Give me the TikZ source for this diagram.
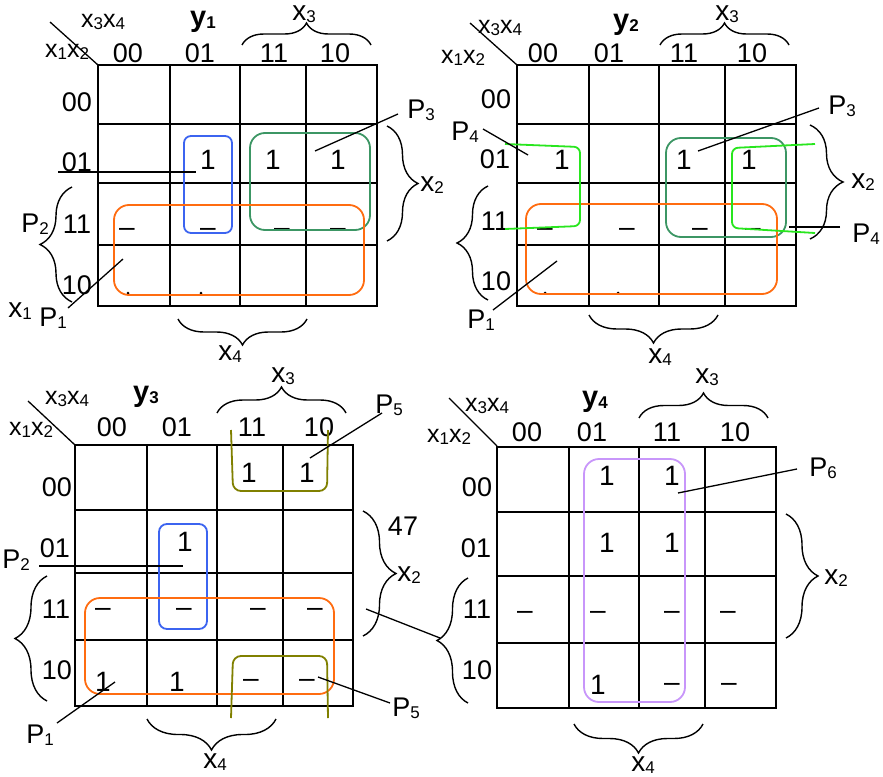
\documentclass[tikz,border=0pt]{standalone}
\usepackage{fontspec}
\setmainfont{Liberation Sans}
\usetikzlibrary{decorations.pathreplacing}
\definecolor{korange}{RGB}{255,108,16}
\definecolor{kblue}{RGB}{60,100,240}
\definecolor{kgreen}{RGB}{60,150,100}
\definecolor{klime}{RGB}{40,230,30}
\definecolor{kolive}{RGB}{128,128,0}
\definecolor{kpurple}{RGB}{200,150,250}
\newcommand{\ksub}[1]{\raisebox{-2pt}{\fontsize{17}{17}\selectfont #1}}
\newcommand{\kx}[1]{x\ksub{#1}}
\newcommand{\kP}[1]{P\ksub{#1}}
\tikzset{
 gl/.style={line width=1.8pt},
 lead/.style={line width=1.3pt},
 br/.style={line width=1.4pt, decorate, decoration={brace, amplitude=#1}},
 br/.default=25,
 hd/.style={inner sep=0, font=\fontsize{27}{27}\selectfont},
 cl/.style={inner sep=0, font=\fontsize{28}{28}\selectfont},
 xl/.style={inner sep=0, font=\fontsize{28}{28}\selectfont},
 cn/.style={inner sep=0, font=\fontsize{25}{25}\selectfont},
 yl/.style={inner sep=0, font=\bfseries\fontsize{29}{29}\selectfont},
 pl/.style={inner sep=0, font=\fontsize{27}{27}\selectfont},
 grp/.style={line width=1.8pt, rounded corners=#1},
 grp/.default=15,
 dotmark/.style={fill=black, circle, inner sep=0, minimum size=3pt},
}
\begin{document}
\begin{tikzpicture}[x=1pt,y=-1pt]
\fill[white] (0,0) rectangle (883,776);
\useasboundingbox (0,0) rectangle (883,776);

% ================= MAP 1 (y1) =================
\draw[gl] (98,65) rectangle (377,306);
\foreach \x in {170,240,306} \draw[gl] (\x,65) -- (\x,306);
\foreach \y in {124,183,245} \draw[gl] (98,\y) -- (377,\y);
\coordinate (d1a) at (50,22); \coordinate (d1b) at (98,65);
\draw[lead] (d1a) -- (d1b);
\node[cn] (a34) at (103,22) {\kx3\kx4};
\node[cn] (a12) at (67,52) {\kx1\kx2};
\node[yl] (ay) at (203,22) {y\ksub{1}};
\node[xl, anchor=base] (ax3) at (304,21) {\kx3};
\draw[br=22] (242,45) -- (371,45);
\node[hd] (ac0) at (128,53) {00};
\node[hd] (ac1) at (200,53) {01};
\node[hd] (ac2) at (274,53) {11};
\node[hd] (ac3) at (335,53) {10};
\node[hd] (ar0) at (77,102) {00};
\node[hd] (ar1) at (77,162) {01};
\node[hd] (ar2) at (77,224) {11};
\node[hd] (ar3) at (77,285) {10};
\draw[br=32] (72,302) -- (72,187);
\draw[br=31] (387,126) -- (387,241);
\draw[br=26] (307,319) -- (178,319);
\node[xl] (ax1) at (20,311) {\kx1};
\node[xl] (ax2) at (432,185) {\kx2};
\node[xl] (ax4) at (230,354) {\kx4};
\node[pl] (aP2) at (35,224) {\kP2};
\node[pl] (aP1) at (53,318) {\kP1};
\node[pl] (aP3) at (421,110) {\kP3};
% cells
\node[cl] (a11) at (208,160) {1};
\node[cl] (a12c) at (273,160) {1};
\node[cl] (a13) at (338,160) {1};
\node[cl] (a20) at (127,232) {–};
\node[cl] (a21) at (208,232) {–};
\node[cl] (a22) at (282,232) {–};
\node[cl] (a23) at (338,232) {–};
\node[dotmark] (a30) at (128,293) {};
\node[dotmark] (a31) at (201,293) {};
% groups
\draw[grp=7, kblue] (184,136) rectangle (232,233);
\draw[grp, kgreen] (250,133) rectangle (370,230);
\draw[grp, korange] (114,205) rectangle (364,295);
% leaders
\coordinate (aP2e) at (58,172); \coordinate (aP2t) at (196,172);
\draw[lead] (aP2e) -- (aP2t);
\coordinate (aP1e) at (68,308); \coordinate (aP1t) at (123,259);
\draw[lead] (aP1e) -- (aP1t);
\coordinate (aP3e) at (398,114); \coordinate (aP3t) at (315,151);
\draw[lead] (aP3e) -- (aP3t);

% ================= MAP 2 (y2) =================
\draw[gl] (517,65) rectangle (796,306);
\foreach \x in {589,659,725} \draw[gl] (\x,65) -- (\x,306);
\foreach \y in {124,183,245} \draw[gl] (517,\y) -- (796,\y);
\coordinate (d2a) at (470,23); \coordinate (d2b) at (517,65);
\draw[lead] (d2a) -- (d2b);
\node[cn] (b34) at (500,28) {\kx3\kx4};
\node[cn] (b12) at (463,58) {\kx1\kx2};
\node[yl] (by) at (626,25) {y\ksub{2}};
\node[xl, anchor=base] (bx3) at (727,21) {\kx3};
\draw[br=22] (660,45) -- (789,45);
\node[hd] (bc0) at (543,53) {00};
\node[hd] (bc1) at (609,53) {01};
\node[hd] (bc2) at (684,53) {11};
\node[hd] (bc3) at (752,53) {10};
\node[hd] (br0) at (496,99) {00};
\node[hd] (br1) at (495,159) {01};
\node[hd] (br2) at (495,221) {11};
\node[hd] (br3) at (496,281) {10};
\draw[br=31] (488,300) -- (488,186);
\draw[br=33] (810,125) -- (810,239);
\draw[br=28] (718,315) -- (589,315);
\node[xl] (bx2) at (863,182) {\kx2};
\node[xl] (bx4) at (660,357) {\kx4};
\node[pl] (bP4a) at (465,132) {\kP4};
\node[pl] (bP1) at (481,320) {\kP1};
\node[pl] (bP3) at (842,106) {\kP3};
\node[pl] (bP4b) at (866,234) {\kP4};
\node[cl] (b11) at (562,160) {1};
\node[cl] (b12c) at (684,160) {1};
\node[cl] (b13) at (749,160) {1};
\node[cl] (b20) at (545,232) {–};
\node[cl] (b21) at (627,232) {–};
\node[cl] (b22) at (700,232) {–};
\node[cl] (b23) at (753,232) {–};
\node[dotmark] (b30) at (545,293) {};
\node[dotmark] (b31) at (618,293) {};
\draw[grp, kgreen] (666,138) rectangle (786,237);
\draw[grp, korange] (526,204) rectangle (777,294);
\draw[line width=1.8pt, klime, rounded corners=6] (505,144) -- (580,147) -- (580,226) -- (505,229);
\draw[line width=1.8pt, klime, rounded corners=6] (815,144) -- (732,148) -- (732,228) -- (815,233);
\coordinate (bP4ae) at (483,129); \coordinate (bP4at) at (528,155);
\draw[lead] (bP4ae) -- (bP4at);
\coordinate (bP1e) at (493,310); \coordinate (bP1t) at (557,261);
\draw[lead] (bP1e) -- (bP1t);
\coordinate (bP3e) at (819,108); \coordinate (bP3t) at (698,151);
\draw[lead] (bP3e) -- (bP3t);
\coordinate (bP4be) at (840,227); \coordinate (bP4bt) at (789,227);
\draw[lead] (bP4be) -- (bP4bt);

% ================= MAP 3 (y3) =================
\draw[gl] (75,445) rectangle (353,706);
\foreach \x in {147,217,283} \draw[gl] (\x,445) -- (\x,706);
\foreach \y in {510,573,640} \draw[gl] (75,\y) -- (353,\y);
\coordinate (d3a) at (28,401); \coordinate (d3b) at (75,445);
\draw[lead] (d3a) -- (d3b);
\node[cn] (c34) at (67,399) {\kx3\kx4};
\node[cn] (c12) at (31,430) {\kx1\kx2};
\node[yl] (cy) at (146,397) {y\ksub{3}};
\node[xl] (cx3) at (283,376) {\kx3};
\draw[br=26] (217,413) -- (346,413);
\node[hd] (cc0) at (112,427) {00};
\node[hd] (cc1) at (177,427) {01};
\node[hd] (cc2) at (252,427) {11};
\node[hd] (cc3) at (319,427) {10};
\node[hd] (cr0) at (57,487) {00};
\node[hd] (cr1) at (55,548) {01};
\node[hd] (cr2) at (56,609) {11};
\node[hd] (cr3) at (57,670) {10};
\draw[br=32] (47,701) -- (47,576);
\draw[br=33] (363,511) -- (363,636);
\draw[br=31] (276,719) -- (147,719);
\node[xl] (cx2) at (409,575) {\kx2};
\node[hd] (c47) at (403,526) {47};
\node[xl] (cx4) at (215,762) {\kx4};
\node[pl] (cP2) at (16,560) {\kP2};
\node[pl] (cP1) at (40,735) {\kP1};
\node[pl] (cP5a) at (389,405) {\kP5};
\node[pl] (cP5b) at (406,708) {\kP5};
\node[cl] (c02) at (249,473) {1};
\node[cl] (c03) at (307,473) {1};
\node[cl] (c11) at (185,542) {1};
\node[cl] (c20) at (103,612) {–};
\node[cl] (c21) at (184,612) {–};
\node[cl] (c22) at (258,612) {–};
\node[cl] (c23) at (315,612) {–};
\node[cl] (c30) at (103,682) {1};
\node[cl] (c31) at (177,682) {1};
\node[cl] (c32) at (251,683) {–};
\node[cl] (c33) at (307,683) {–};
\draw[grp=8, kblue] (159,524) rectangle (207,629);
\draw[grp, korange] (85,598) rectangle (334,694);
\draw[line width=1.8pt, kolive, rounded corners=8] (231,430) -- (233,491) -- (327,491) -- (328,430);
\draw[line width=1.8pt, kolive, rounded corners=8] (231,718) -- (233,656) -- (327,656) -- (328,718);
\coordinate (cP2e) at (39,566); \coordinate (cP2t) at (183,566);
\draw[lead] (cP2e) -- (cP2t);
\coordinate (cP1e) at (57,723); \coordinate (cP1t) at (115,682);
\draw[lead] (cP1e) -- (cP1t);
\coordinate (cP5ae) at (382,413); \coordinate (cP5at) at (310,458);
\draw[lead] (cP5ae) -- (cP5at);
\coordinate (cP5be) at (390,703); \coordinate (cP5bt) at (318,677);
\draw[lead] (cP5be) -- (cP5bt);
\coordinate (cxl) at (366,609); \coordinate (dxl) at (440,638);
\draw[lead] (cxl) -- (dxl);

% ================= MAP 4 (y4) =================
\draw[gl] (497,447) rectangle (776,708);
\foreach \x in {569,639,705} \draw[gl] (\x,447) -- (\x,708);
\foreach \y in {512,576,643} \draw[gl] (497,\y) -- (776,\y);
\coordinate (d4a) at (449,398); \coordinate (d4b) at (497,446);
\draw[lead] (d4a) -- (d4b);
\node[cn] (d34) at (487,406) {\kx3\kx4};
\node[cn] (d12) at (449,437) {\kx1\kx2};
\node[yl] (dy) at (595,402) {y\ksub{4}};
\node[xl] (dx3) at (707,377) {\kx3};
\draw[br=25] (639,418) -- (768,418);
\node[hd] (dc0) at (527,432) {00};
\node[hd] (dc1) at (592,432) {01};
\node[hd] (dc2) at (667,432) {11};
\node[hd] (dc3) at (735,432) {10};
\node[hd] (dr0) at (477,487) {00};
\node[hd] (dr1) at (476,548) {01};
\node[hd] (dr2) at (477,609) {11};
\node[hd] (dr3) at (477,670) {10};
\draw[br=31] (468,703) -- (468,578);
\draw[br=32] (786,514) -- (786,638);
\draw[br=29] (703,724) -- (574,724);
\node[xl] (dx2) at (836,578) {\kx2};
\node[xl] (dx4) at (643,765) {\kx4};
\node[pl] (dP6) at (823,468) {\kP6};
\node[cl] (d01) at (607,476) {1};
\node[cl] (d02) at (672,476) {1};
\node[cl] (d11) at (607,543) {1};
\node[cl] (d12c) at (672,543) {1};
\node[cl] (d20) at (525,615) {–};
\node[cl] (d21) at (598,615) {–};
\node[cl] (d22) at (672,615) {–};
\node[cl] (d23) at (728,615) {–};
\node[cl] (d31) at (598,685) {1};
\node[cl] (d32) at (672,687) {–};
\node[cl] (d33) at (729,687) {–};
\draw[grp, kpurple] (584,459) rectangle (685,702);
\coordinate (dP6e) at (797,469); \coordinate (dP6t) at (678,493);
\draw[lead] (dP6e) -- (dP6t);
\end{tikzpicture}
\end{document}
